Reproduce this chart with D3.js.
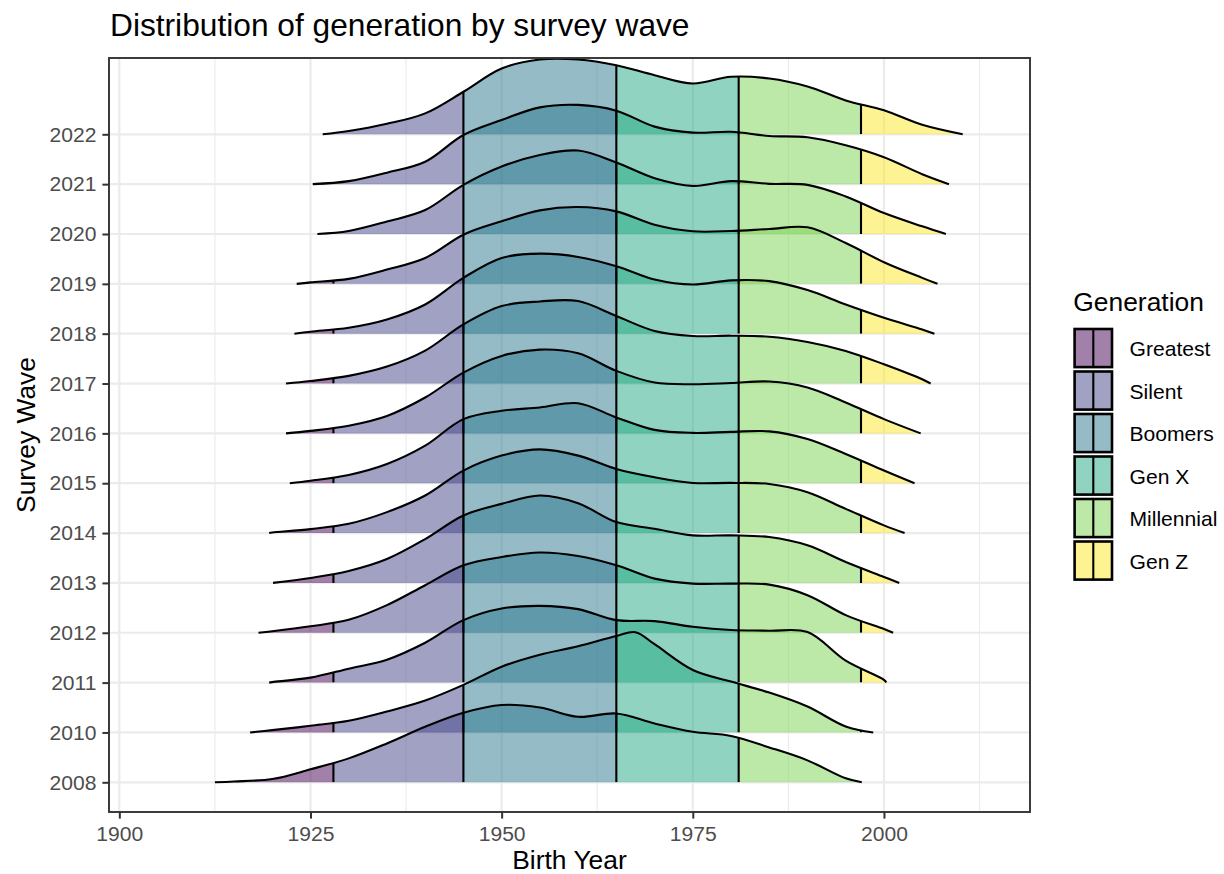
<!DOCTYPE html>
<html>
<head>
<meta charset="utf-8">
<script src="https://cdn.jsdelivr.net/npm/d3@7"></script>
<style>
body { margin: 0; background: #fff; }
text { font-family: "Liberation Sans", Arial, Helvetica, sans-serif; }
</style>
</head>
<body>
<script>
// survey waves, bottom to top
var waves = ["2008", "2010", "2011", "2012", "2013", "2014", "2015",
             "2016", "2017", "2018", "2019", "2020", "2021", "2022"];

var gridYears = [1915, 1920, 1925, 1930, 1935, 1940, 1945, 1950, 1955, 1960,
                 1965, 1970, 1975, 1980, 1985, 1990, 1995, 2000, 2005];

// first and last birth year of each wave
var startYear = [1912.5, 1917.1, 1919.6, 1918.2, 1920.1, 1919.6, 1922.3,
                 1921.8, 1921.8, 1922.9, 1923.2, 1925.9, 1925.3, 1926.6];
var endYear = [1997.1, 1998.6, 2000.3, 2001.2, 2002.0, 2002.7, 2004.0,
               2004.8, 2006.1, 2006.6, 2007.0, 2008.1, 2008.5, 2010.3];

// relative density per wave (50 = one row), null = outside the data range
var d2008 = [0.8, 3.3, 13, 24, 39, 55.7, 69.7, 77.5, 75, 65.7, 69, 59, 50.7, 46.5, 35, 22, 4, null, null];
var d2010 = [null, 2.3, 6.7, 11.7, 21, 32, 47.7, 66, 78, 86.5, 96.8, 88.5, 62.7, 51, 40, 26, 6, null, null];
var d2011 = [null, 0.5, 5, 14, 23, 40, 62.7, 74.3, 77, 73.7, 62.7, 61.7, 56, 52.7, 52, 50.7, 22, 2.7, null];
var d2012 = [null, 1.5, 6.5, 13, 27.7, 47.7, 67.7, 76, 80.5, 77, 67.7, 54.3, 49.3, 49.3, 48.3, 37.7, 17.7, 3.7, null];
var d2013 = [null, null, 5, 12, 24, 44, 67.7, 79.3, 87.7, 80, 61, 54.3, 47.7, 47.7, 46, 37.7, 21, 6, null];
var d2014 = [null, 0.5, 4, 9.3, 21, 37.7, 62.7, 77.7, 84, 77.7, 64.3, 56, 50.3, 50.3, 49.3, 41, 24.3, 7.7, null];
var d2015 = [null, null, 2.5, 8.3, 19.3, 37.7, 64.3, 72.7, 76, 80.3, 66, 53.5, 50.5, 51.5, 52, 44.3, 29.3, 12.7, null];
var d2016 = [null, null, 2.5, 7.7, 17.5, 36, 61, 77.7, 84, 80.3, 62.7, 51, 49.3, 50.5, 52, 46, 31, 14.3, null];
var d2017 = [null, null, 2.5, 7.7, 17, 33, 59.3, 77.7, 82.3, 82.7, 67.7, 52.7, 47.7, 48, 47, 41.7, 32.7, 19.3, 4.3];
var d2018 = [null, null, 2, 6, 14.3, 29.3, 56, 76, 80.3, 77, 67.7, 54.3, 49.3, 53.5, 52.7, 43.7, 29.3, 16, 4.3];
var d2019 = [null, null, 1.5, 5, 14.3, 26, 49.3, 62.7, 73.7, 77, 72.7, 59.3, 52.7, 53, 55, 56.7, 41, 21.7, 6];
var d2020 = [null, null, null, 3, 12.5, 24, 49.3, 67.7, 79.3, 83.7, 71.7, 56, 48.3, 53, 50.3, 49.3, 37.7, 21, 7.7];
var d2021 = [null, null, null, 3, 11.5, 22.5, 49.3, 64.3, 77, 79.5, 73.7, 57.7, 51.7, 52.5, 48.3, 47, 39, 27, 10];
var d2022 = [null, null, null, 3.3, 10.5, 21, 42.7, 66, 75, 75, 69.3, 59.3, 51, 57.7, 56, 48, 34, 24, 9.5];
var densities = [d2008, d2010, d2011, d2012, d2013, d2014, d2015,
                 d2016, d2017, d2018, d2019, d2020, d2021, d2022];

// extra reading between grid years (peak of 2010)
var extraWave = ["2010"];
var extraYear = [1967.5];
var extraDensity = [100.6];

var generations = ["Greatest", "Silent", "Boomers", "Gen X", "Millennial", "Gen Z"];
var cutYears = [1928, 1945, 1965, 1981, 1997]; // first birth year of the next generation
var xTicks = [1900, 1925, 1950, 1975, 2000];
var xMinor = [1912.5, 1937.5, 1962.5, 1987.5, 2012.5];

var palette = ["#440154", "#414487", "#2A788E", "#22A884", "#7AD151", "#FDE725"];

var margin = {top: 58, right: 194, bottom: 62, left: 109}
  , width = 1224 - margin.left - margin.right
  , height = 874 - margin.top - margin.bottom;

var svg = d3.select("body").append("svg")
    .attr("width", 1224)
    .attr("height", 874);

var defs = svg.append("defs");
var panel = svg.append("g")
    .attr("transform", "translate(" + margin.left + "," + margin.top + ")");

var x = d3.scaleLinear().domain([1898.65, 2019.1]).range([0, width]);
var y = d3.scalePoint().domain(waves).range([height - 29.7, 76.3]);
var step = (y(waves[0]) - y(waves[waves.length - 1])) / (waves.length - 1);
var h = d3.scaleLinear().domain([0, 50]).range([0, step]);

// grid
panel.selectAll(".minor").data(xMinor).enter().append("line")
    .attr("x1", d => x(d)).attr("x2", d => x(d))
    .attr("y1", 0).attr("y2", height)
    .attr("stroke", "#ebebeb").attr("stroke-width", 1.1);
panel.selectAll(".major").data(xTicks).enter().append("line")
    .attr("x1", d => x(d)).attr("x2", d => x(d))
    .attr("y1", 0).attr("y2", height)
    .attr("stroke", "#ebebeb").attr("stroke-width", 2.2);
panel.selectAll(".hgrid").data(waves).enter().append("line")
    .attr("x1", 0).attr("x2", width)
    .attr("y1", d => y(d)).attr("y2", d => y(d))
    .attr("stroke", "#ebebeb").attr("stroke-width", 2.2);

// clip regions, one per generation, and one for the panel
defs.append("clipPath").attr("id", "panel-clip")
    .append("rect").attr("width", width).attr("height", height);
generations.forEach(function (g, k) {
    var lo = k === 0 ? x.domain()[0] - 50 : cutYears[k - 1];
    var hi = k === generations.length - 1 ? x.domain()[1] + 50 : cutYears[k];
    defs.append("clipPath").attr("id", "gen" + k)
        .append("rect")
        .attr("x", x(lo)).attr("width", x(hi) - x(lo))
        .attr("y", -200).attr("height", height + 400);
});

var curve = d3.curveCatmullRom.alpha(0.5);
var ridgeLayer = panel.append("g").attr("clip-path", "url(#panel-clip)");

// top wave first so that lower ridges sit in front
for (var i = waves.length - 1; i >= 0; i--) {
    var base = y(waves[i]);
    var pts = [[startYear[i], 0]];
    gridYears.forEach(function (yr, j) {
        if (densities[i][j] != null) pts.push([yr, densities[i][j]]);
    });
    extraWave.forEach(function (w, j) {
        if (w === waves[i]) pts.push([extraYear[j], extraDensity[j]]);
    });
    pts.push([endYear[i], 0]);
    pts.sort((a, b) => a[0] - b[0]);

    var area = d3.area()
        .x(d => x(d[0]))
        .y0(base)
        .y1(d => base - h(d[1]))
        .curve(curve);
    var line = d3.line()
        .x(d => x(d[0]))
        .y(d => base - h(d[1]))
        .curve(curve);

    defs.append("clipPath").attr("id", "ridge" + i)
        .append("path").attr("d", area(pts));

    var g = ridgeLayer.append("g").attr("class", "ridge");
    generations.forEach(function (gen, k) {
        g.append("g").attr("clip-path", "url(#gen" + k + ")")
            .append("path")
            .attr("d", area(pts))
            .attr("fill", palette[k])
            .attr("fill-opacity", 0.5);
    });

    var s = startYear[i], e = endYear[i];
    g.append("g").attr("clip-path", "url(#ridge" + i + ")")
        .selectAll("line")
        .data(cutYears.filter(c => c > s && c < e))
        .enter().append("line")
        .attr("x1", d => x(d)).attr("x2", d => x(d))
        .attr("y1", base).attr("y2", base - 4 * step)
        .attr("stroke", "#000").attr("stroke-width", 2.1);

    g.append("path")
        .attr("d", line(pts))
        .attr("fill", "none")
        .attr("stroke", "#000")
        .attr("stroke-width", 2.1)
        .attr("stroke-linejoin", "round");
}

// axes
var xAxis = panel.append("g")
    .attr("transform", "translate(0," + height + ")")
    .call(d3.axisBottom(x).tickValues(xTicks).tickSize(6.6).tickPadding(7.2)
          .tickFormat(d3.format("d")));
var yAxis = panel.append("g")
    .call(d3.axisLeft(y).tickSize(6.6).tickPadding(5.9));

[xAxis, yAxis].forEach(function (ax) {
    ax.select(".domain").remove();
    ax.selectAll(".tick line").attr("stroke", "#333333").attr("stroke-width", 2);
    ax.selectAll(".tick text")
        .attr("fill", "#4d4d4d")
        .style("font-size", "21.1px")
        .style("font-family", "'Liberation Sans', Arial, sans-serif");
});

panel.append("rect")
    .attr("width", width).attr("height", height)
    .attr("fill", "none")
    .attr("stroke", "#333333")
    .attr("stroke-width", 1.9);

// titles
svg.append("text")
    .attr("x", 110).attr("y", 36)
    .style("font-size", "31.7px")
    .text("Distribution of generation by survey wave");

svg.append("text")
    .attr("x", margin.left + width / 2).attr("y", 869)
    .attr("text-anchor", "middle")
    .style("font-size", "26.4px")
    .text("Birth Year");

svg.append("text")
    .attr("transform", "translate(35," + (margin.top + height / 2) + ") rotate(-90)")
    .attr("text-anchor", "middle")
    .style("font-size", "26.4px")
    .text("Survey Wave");

// legend
var legendX = 1073.3, legendTop = 327.3, keySize = 42.5;
svg.append("text")
    .attr("x", legendX).attr("y", 311)
    .style("font-size", "26.4px")
    .text("Generation");

var legend = svg.selectAll(".legend")
    .data(generations)
    .enter().append("g")
    .attr("class", "legend")
    .attr("transform", (d, k) => "translate(" + legendX + "," + (legendTop + k * keySize) + ")");

legend.append("rect")
    .attr("x", 1.3).attr("y", 1.7)
    .attr("width", 37.4).attr("height", keySize - 4.4)
    .attr("fill", (d, k) => palette[k])
    .attr("fill-opacity", 0.5)
    .attr("stroke", "#000")
    .attr("stroke-width", 2.6);

legend.append("line")
    .attr("x1", 20).attr("x2", 20)
    .attr("y1", 1.7).attr("y2", keySize - 2.7)
    .attr("stroke", "#000")
    .attr("stroke-width", 2.1);

legend.append("text")
    .attr("x", 1129.5 - legendX)
    .attr("y", keySize / 2)
    .attr("dy", "0.36em")
    .style("font-size", "21.1px")
    .text(d => d);
</script>
</body>
</html>
